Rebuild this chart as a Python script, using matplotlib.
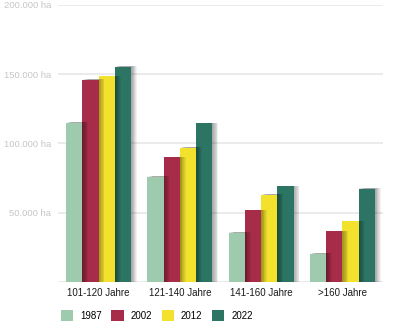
import numpy as np
import matplotlib.pyplot as plt
import matplotlib.patheffects as pe
from matplotlib.patches import Patch

plt.rcParams['font.family'] = ['Liberation Sans', 'DejaVu Sans']

# Daten: Waldfläche nach Altersklassen (ha)
kategorien = ['101-120 Jahre', '121-140 Jahre', '141-160 Jahre', '>160 Jahre']
jahre = ['1987', '2002', '2012', '2022']
werte_1987 = [115000, 76000, 35500, 20500]
werte_2002 = [146000, 90000, 52000, 36500]
werte_2012 = [148500, 97000, 63000, 44000]
werte_2022 = [155500, 114500, 69000, 67500]
farben = ['#9ecbae', '#a72c49', '#f3e22d', '#2c7564']

serien = [werte_1987, werte_2002, werte_2012, werte_2022]

fig = plt.figure(figsize=(3.95, 3.35), dpi=100)
ax = fig.add_axes([58 / 395, 1 - 282 / 335, 325 / 395, 277 / 335])

x = np.arange(len(kategorien))
breite = 0.2

# weicher Schatten nach rechts (mehrere versetzte, transparente Kopien)
schatten = []
for dx in [0.6, 1.2, 1.8, 2.4, 3.0, 3.6, 4.2]:
    schatten.append(pe.SimplePatchShadow(offset=(dx, 0.3), shadow_rgbFace='black', alpha=0.055))
schatten.append(pe.Normal())

# rückwärts zeichnen, damit der Schatten auf dem Nachbarbalken liegt
for i in reversed(range(len(serien))):
    versatz = (i - 1.5) * breite
    bars = ax.bar(x + versatz, serien[i], width=breite, color=farben[i], zorder=3 + (4 - i))
    for b in bars:
        b.set_path_effects(schatten)

ax.set_xlim(-0.5, 3.5)
ax.set_ylim(0, 200000)
ax.set_yticks([0, 50000, 100000, 150000, 200000])
ax.set_yticklabels(['', '50.000 ha', '100.000 ha', '150.000 ha', '200.000 ha'])
ax.set_xticks(x)
ax.set_xticklabels(kategorien)

ax.grid(axis='y', color='#e8e8e8', linewidth=1.2, zorder=0)
ax.set_axisbelow(True)
for s in ax.spines.values():
    s.set_visible(False)
ax.tick_params(axis='y', length=0, pad=5, labelsize=6.8, labelcolor='#c6c6c6')
ax.tick_params(axis='x', length=0, pad=4, labelsize=7, labelcolor='#1a1a1a')

handles = [Patch(facecolor=f, edgecolor='none') for f in farben]
fig.legend(handles, jahre, loc='upper left', bbox_to_anchor=(56 / 395, 1 - 305 / 335),
           ncol=4, frameon=False, fontsize=7, borderpad=0, handlelength=1.25,
           handleheight=1.4, handletextpad=0.72, columnspacing=1.0)

fig.savefig('out.png', dpi=100)
